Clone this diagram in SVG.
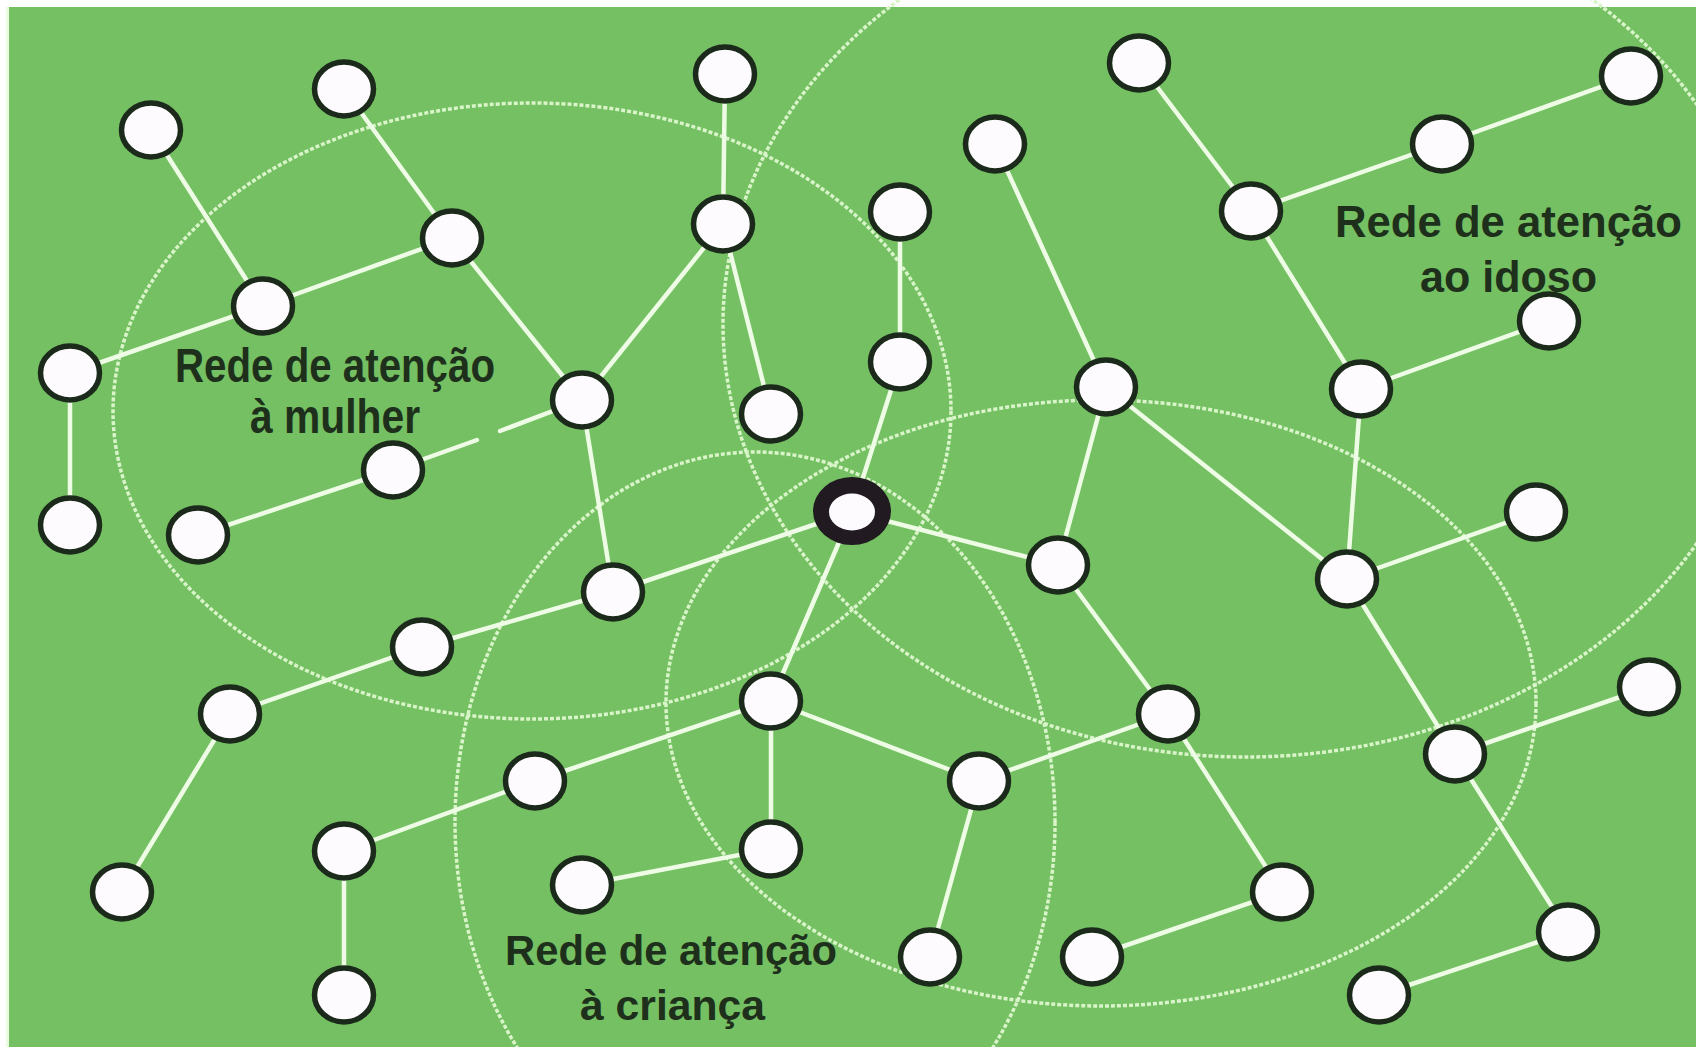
<svg xmlns="http://www.w3.org/2000/svg" width="1696" height="1047" viewBox="0 0 1696 1047">
<style>
.bg{fill:#74c063}
.ring{fill:none;stroke:#d8f4c8;stroke-width:3.5;stroke-dasharray:4 2}
.edge{stroke:#eefce6;stroke-width:4.5;stroke-linecap:round;fill:none}
.node{fill:#fdfbfd;stroke:#1b2a1b;stroke-width:5.5}
.lbl{font-family:"Liberation Sans",Arial,sans-serif;font-weight:bold;fill:#1e301c}
</style>
<rect x="0" y="0" width="1696" height="1047" fill="#ffffff"/>
<rect x="6" y="7" width="1690" height="1040" fill="#eafbe0"/>
<rect class="bg" x="9" y="7" width="1687" height="1040"/>
<g id="rings">
<ellipse class="ring" cx="532" cy="411" rx="419" ry="308"/>
<ellipse class="ring" cx="755" cy="822" rx="300" ry="370"/>
<ellipse class="ring" cx="1101" cy="703" rx="435" ry="303"/>
<ellipse class="ring" cx="1246" cy="324" rx="523" ry="433"/>
</g>
<g id="connectors">
<line class="edge" x1="151" y1="130" x2="263" y2="306"/>
<line class="edge" x1="344" y1="89" x2="452" y2="238"/>
<line class="edge" x1="263" y1="306" x2="452" y2="238"/>
<line class="edge" x1="263" y1="306" x2="70" y2="373"/>
<line class="edge" x1="70" y1="373" x2="70" y2="525"/>
<line class="edge" x1="452" y1="238" x2="582" y2="400"/>
<line class="edge" x1="582" y1="400" x2="723" y2="224"/>
<line class="edge" x1="725" y1="74" x2="723" y2="224"/>
<line class="edge" x1="723" y1="224" x2="771" y2="414"/>
<line class="edge" x1="582" y1="400" x2="613" y2="592"/>
<line class="edge" x1="393" y1="470" x2="198" y2="535"/>
<line class="edge" x1="393" y1="470" x2="477" y2="440"/>
<line class="edge" x1="500" y1="431" x2="582" y2="400"/>
<line class="edge" x1="900" y1="212" x2="900" y2="362"/>
<line class="edge" x1="900" y1="362" x2="852" y2="512"/>
<line class="edge" x1="852" y1="512" x2="771" y2="701"/>
<line class="edge" x1="852" y1="512" x2="613" y2="592"/>
<line class="edge" x1="613" y1="592" x2="422" y2="647"/>
<line class="edge" x1="422" y1="647" x2="230" y2="714"/>
<line class="edge" x1="230" y1="714" x2="122" y2="892"/>
<line class="edge" x1="852" y1="512" x2="1058" y2="565"/>
<line class="edge" x1="1106" y1="387" x2="995" y2="144"/>
<line class="edge" x1="1106" y1="387" x2="1058" y2="565"/>
<line class="edge" x1="1106" y1="387" x2="1347" y2="579"/>
<line class="edge" x1="1058" y1="565" x2="1168" y2="714"/>
<line class="edge" x1="1168" y1="714" x2="1282" y2="892"/>
<line class="edge" x1="1168" y1="714" x2="979" y2="781"/>
<line class="edge" x1="771" y1="701" x2="979" y2="781"/>
<line class="edge" x1="771" y1="701" x2="535" y2="781"/>
<line class="edge" x1="771" y1="701" x2="771" y2="849"/>
<line class="edge" x1="535" y1="781" x2="344" y2="851"/>
<line class="edge" x1="344" y1="851" x2="344" y2="995"/>
<line class="edge" x1="771" y1="849" x2="582" y2="885"/>
<line class="edge" x1="979" y1="781" x2="930" y2="957"/>
<line class="edge" x1="1282" y1="892" x2="1092" y2="957"/>
<line class="edge" x1="1139" y1="63" x2="1251" y2="211"/>
<line class="edge" x1="1251" y1="211" x2="1442" y2="144"/>
<line class="edge" x1="1442" y1="144" x2="1631" y2="76"/>
<line class="edge" x1="1251" y1="211" x2="1361" y2="389"/>
<line class="edge" x1="1361" y1="389" x2="1549" y2="321"/>
<line class="edge" x1="1361" y1="389" x2="1347" y2="579"/>
<line class="edge" x1="1347" y1="579" x2="1536" y2="512"/>
<line class="edge" x1="1347" y1="579" x2="1455" y2="754"/>
<line class="edge" x1="1455" y1="754" x2="1649" y2="687"/>
<line class="edge" x1="1455" y1="754" x2="1568" y2="932"/>
<line class="edge" x1="1568" y1="932" x2="1379" y2="995"/>
</g>
<g id="nodes">
<g id="n1"><ellipse class="node" cx="151" cy="130" rx="29.5" ry="27"/></g>
<g id="n2"><ellipse class="node" cx="344" cy="89" rx="29.5" ry="27"/></g>
<g id="n3"><ellipse class="node" cx="725" cy="74" rx="29.5" ry="27"/></g>
<g id="n4"><ellipse class="node" cx="1139" cy="63" rx="29.5" ry="27"/></g>
<g id="n5"><ellipse class="node" cx="1631" cy="76" rx="29.5" ry="27"/></g>
<g id="n6"><ellipse class="node" cx="995" cy="144" rx="29.5" ry="27"/></g>
<g id="n7"><ellipse class="node" cx="1442" cy="144" rx="29.5" ry="27"/></g>
<g id="n8"><ellipse class="node" cx="1251" cy="211" rx="29.5" ry="27"/></g>
<g id="n9"><ellipse class="node" cx="452" cy="238" rx="29.5" ry="27"/></g>
<g id="n10"><ellipse class="node" cx="723" cy="224" rx="29.5" ry="27"/></g>
<g id="n11"><ellipse class="node" cx="900" cy="212" rx="29.5" ry="27"/></g>
<g id="n12"><ellipse class="node" cx="263" cy="306" rx="29.5" ry="27"/></g>
<g id="n13"><ellipse class="node" cx="70" cy="373" rx="29.5" ry="27"/></g>
<g id="n14"><ellipse class="node" cx="900" cy="362" rx="29.5" ry="27"/></g>
<g id="n15"><ellipse class="node" cx="1549" cy="321" rx="29.5" ry="27"/></g>
<g id="n16"><ellipse class="node" cx="582" cy="400" rx="29.5" ry="27"/></g>
<g id="n17"><ellipse class="node" cx="771" cy="414" rx="29.5" ry="27"/></g>
<g id="n18"><ellipse class="node" cx="1106" cy="387" rx="29.5" ry="27"/></g>
<g id="n19"><ellipse class="node" cx="1361" cy="389" rx="29.5" ry="27"/></g>
<g id="n20"><ellipse class="node" cx="393" cy="470" rx="29.5" ry="27"/></g>
<g id="n21"><ellipse class="node" cx="70" cy="525" rx="29.5" ry="27"/></g>
<g id="n22"><ellipse class="node" cx="198" cy="535" rx="29.5" ry="27"/></g>
<g id="n23"><ellipse cx="852" cy="511" rx="39" ry="34" fill="#211a20"/><ellipse cx="852" cy="512" rx="23" ry="18.5" fill="#fdfbfd"/></g>
<g id="n24"><ellipse class="node" cx="1536" cy="512" rx="29.5" ry="27"/></g>
<g id="n25"><ellipse class="node" cx="1058" cy="565" rx="29.5" ry="27"/></g>
<g id="n26"><ellipse class="node" cx="1347" cy="579" rx="29.5" ry="27"/></g>
<g id="n27"><ellipse class="node" cx="613" cy="592" rx="29.5" ry="27"/></g>
<g id="n28"><ellipse class="node" cx="422" cy="647" rx="29.5" ry="27"/></g>
<g id="n29"><ellipse class="node" cx="230" cy="714" rx="29.5" ry="27"/></g>
<g id="n30"><ellipse class="node" cx="771" cy="701" rx="29.5" ry="27"/></g>
<g id="n31"><ellipse class="node" cx="1168" cy="714" rx="29.5" ry="27"/></g>
<g id="n32"><ellipse class="node" cx="1649" cy="687" rx="29.5" ry="27"/></g>
<g id="n33"><ellipse class="node" cx="535" cy="781" rx="29.5" ry="27"/></g>
<g id="n34"><ellipse class="node" cx="979" cy="781" rx="29.5" ry="27"/></g>
<g id="n35"><ellipse class="node" cx="1455" cy="754" rx="29.5" ry="27"/></g>
<g id="n36"><ellipse class="node" cx="344" cy="851" rx="29.5" ry="27"/></g>
<g id="n37"><ellipse class="node" cx="771" cy="849" rx="29.5" ry="27"/></g>
<g id="n38"><ellipse class="node" cx="122" cy="892" rx="29.5" ry="27"/></g>
<g id="n39"><ellipse class="node" cx="582" cy="885" rx="29.5" ry="27"/></g>
<g id="n40"><ellipse class="node" cx="1282" cy="892" rx="29.5" ry="27"/></g>
<g id="n41"><ellipse class="node" cx="930" cy="957" rx="29.5" ry="27"/></g>
<g id="n42"><ellipse class="node" cx="1092" cy="957" rx="29.5" ry="27"/></g>
<g id="n43"><ellipse class="node" cx="1568" cy="932" rx="29.5" ry="27"/></g>
<g id="n44"><ellipse class="node" cx="1379" cy="995" rx="29.5" ry="27"/></g>
<g id="n45"><ellipse class="node" cx="344" cy="995" rx="29.5" ry="27"/></g>
</g>
<g id="labels">
<text class="lbl" x="175" y="382" font-size="48" textLength="320" lengthAdjust="spacingAndGlyphs">Rede de atenção</text>
<text class="lbl" x="250" y="433" font-size="48" textLength="170" lengthAdjust="spacingAndGlyphs">à mulher</text>
<text class="lbl" x="505" y="965" font-size="42" textLength="332" lengthAdjust="spacingAndGlyphs">Rede de atenção</text>
<text class="lbl" x="580" y="1020" font-size="42" textLength="185" lengthAdjust="spacingAndGlyphs">à criança</text>
<text class="lbl" x="1335" y="237" font-size="45" textLength="347" lengthAdjust="spacingAndGlyphs">Rede de atenção</text>
<text class="lbl" x="1420" y="292" font-size="45" textLength="177" lengthAdjust="spacingAndGlyphs">ao idoso</text>
</g>
</svg>
